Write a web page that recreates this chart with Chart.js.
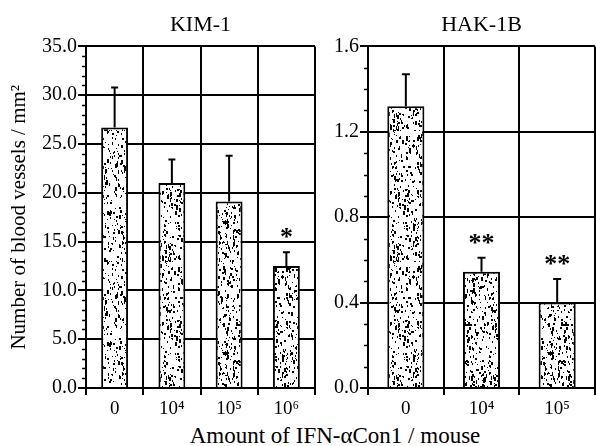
<!DOCTYPE html>
<html>
<head>
<meta charset="utf-8">
<script src="https://cdn.jsdelivr.net/npm/chart.js@4"></script>
<style>
  body { margin: 0; background: #fff; }
  #wrap { position: relative; width: 596px; height: 446px; overflow: hidden; }
  #kim { position: absolute; left: 0; top: 0; }
  #hak { position: absolute; left: 325px; top: 0; }
  #xtitle { position: absolute; left: 0; width: 670px; top: 424px; text-align: center;
            font: 23px/23px 'Liberation Serif', serif; color: #000; white-space: nowrap; }
</style>
</head>
<body>
<div id="wrap">
  <canvas id="kim" width="325" height="420"></canvas>
  <canvas id="hak" width="271" height="420"></canvas>
  <div id="xtitle">Amount of IFN-αCon1 / mouse</div>
</div>
<script>
// KIM-1 panel
const kimLabels = ['0', '10⁴', '10⁵', '10⁶'];
const kimValues = [26.7, 21.0, 19.1, 12.5];
const kimErrors = [4.1, 2.4, 4.7, 1.4];
const kimStars = ['', '', '', '*'];
const kimTicks = [0, 5, 10, 15, 20, 25, 30, 35];

// HAK-1B panel
const hakLabels = ['0', '10⁴', '10⁵'];
const hakValues = [1.32, 0.545, 0.40];
const hakErrors = [0.15, 0.065, 0.11];
const hakStars = ['', '**', '**'];
const hakTicks = [0, 0.4, 0.8, 1.2, 1.6];

Chart.defaults.font.family = "'Liberation Serif', serif";
Chart.defaults.color = '#000';

// stippled fill like the printed bars (fixed seed so it is the same every time)
function makeSpeckle() {
  const W = 97, H = 131;
  const c = document.createElement('canvas');
  c.width = W; c.height = H;
  const g = c.getContext('2d');
  g.fillStyle = '#fff';
  g.fillRect(0, 0, W, H);
  let s = 24680;
  const rnd = () => { s = (s * 16807) % 2147483647; return s / 2147483647; };
  g.fillStyle = '#000';
  for (let i = 0; i < 900; i++) {
    const x = Math.floor(rnd() * W), y = Math.floor(rnd() * H);
    const r = rnd();
    if (r < 0.5) {
      g.fillRect(x, y, 1, 1 + Math.floor(rnd() * 2));
    } else if (r < 0.85) {
      g.fillRect(x, y, 1 + Math.floor(rnd() * 2), 2 + Math.floor(rnd() * 3));
    } else {
      g.fillRect(x, y, 2, 2);
    }
  }
  return g.createPattern(c, 'repeat');
}
const speckle = makeSpeckle();

// error bars, significance stars and the small minor ticks on the y axis
const extras = {
  id: 'extras',
  afterDatasetsDraw(chart) {
    const ctx = chart.ctx;
    const y = chart.scales.y;
    const ds = chart.data.datasets[0];
    const meta = chart.getDatasetMeta(0);
    ctx.save();
    ctx.strokeStyle = '#000';
    ctx.fillStyle = '#000';
    ctx.lineWidth = 2;
    ctx.font = "bold 26px 'Liberation Serif', serif";
    ctx.textAlign = 'center';
    ctx.textBaseline = 'alphabetic';
    meta.data.forEach((bar, i) => {
      const top = y.getPixelForValue(ds.data[i] + ds.errors[i]);
      ctx.beginPath();
      ctx.moveTo(bar.x, bar.y);
      ctx.lineTo(bar.x, top);
      ctx.moveTo(bar.x - ds.cap, top);
      ctx.lineTo(bar.x + ds.cap, top);
      ctx.stroke();
      if (ds.stars[i]) ctx.fillText(ds.stars[i], bar.x, top - 7);
    });
    // minor ticks
    const left = chart.chartArea.left;
    const n = Math.round(y.max / ds.minorStep);
    ctx.lineWidth = 1.5;
    ctx.beginPath();
    for (let k = 1; k < n; k++) {
      if (k % ds.minorPerMajor === 0) continue;
      const py = Math.round(y.getPixelForValue(k * ds.minorStep)) + 0.5;
      ctx.moveTo(left - 4, py);
      ctx.lineTo(left, py);
    }
    ctx.stroke();
    ctx.restore();
  }
};

function makeChart(id, cfg) {
  return new Chart(document.getElementById(id), {
    type: 'bar',
    data: {
      labels: cfg.labels,
      datasets: [{
        data: cfg.values,
        errors: cfg.errors,
        stars: cfg.stars,
        cap: cfg.cap,
        minorStep: cfg.minorStep,
        minorPerMajor: cfg.minorPerMajor,
        backgroundColor: speckle,
        borderColor: '#000',
        borderWidth: 2,
        barPercentage: cfg.barPct,
        categoryPercentage: 1
      }]
    },
    options: {
      responsive: false,
      animation: false,
      layout: { padding: { left: 0, right: cfg.padRight, top: 0, bottom: 0 } },
      plugins: {
        legend: { display: false },
        tooltip: { enabled: false },
        title: {
          display: true,
          text: cfg.title,
          fullSize: false,
          color: '#000',
          font: { size: 22, weight: 'normal' },
          padding: { top: 12, bottom: 8 }
        }
      },
      scales: {
        x: {
          grid: { offset: true, color: '#000', lineWidth: 2, tickLength: 7 },
          border: { color: '#000', width: 2 },
          ticks: { color: '#000', font: { size: 19 }, padding: 3, maxRotation: 0 },
          afterFit: s => { s.height = 32; }
        },
        y: {
          min: 0,
          max: cfg.ticks[cfg.ticks.length - 1],
          afterBuildTicks: s => { s.ticks = cfg.ticks.map(v => ({ value: v })); },
          ticks: { color: '#000', font: { size: 20 }, padding: 1, callback: v => Number(v).toFixed(1) },
          grid: { color: '#000', lineWidth: 2, tickLength: 8 },
          border: { color: '#000', width: 2 },
          title: cfg.yTitle ? {
            display: true,
            text: cfg.yTitle,
            color: '#000',
            font: { size: 21 },
            padding: { top: 7, bottom: 0 }
          } : { display: false },
          afterFit: s => { s.width = cfg.yWidth; }
        }
      }
    },
    plugins: [extras]
  });
}

makeChart('kim', {
  labels: kimLabels, values: kimValues, errors: kimErrors, stars: kimStars, ticks: kimTicks,
  title: 'KIM-1', yTitle: 'Number of blood vessels / mm²',
  yWidth: 86, padRight: 10, barPct: 0.47, cap: 3.5, minorStep: 1, minorPerMajor: 5
});

makeChart('hak', {
  labels: hakLabels, values: hakValues, errors: hakErrors, stars: hakStars, ticks: hakTicks,
  title: 'HAK-1B', yTitle: null,
  yWidth: 43, padRight: 1, barPct: 0.49, cap: 4, minorStep: 0.1, minorPerMajor: 4
});
</script>
</body>
</html>
